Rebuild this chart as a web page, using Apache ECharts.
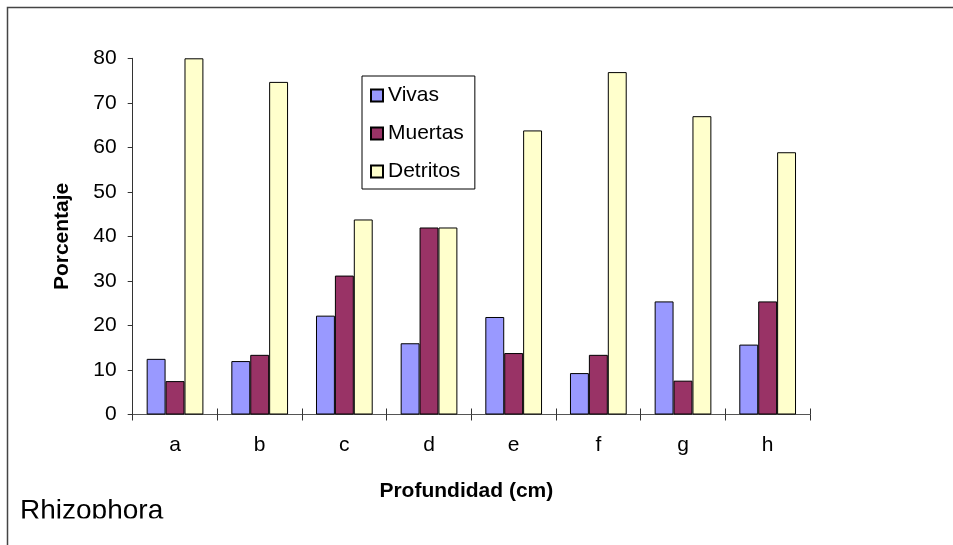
<!DOCTYPE html>
<html>
<head>
<meta charset="utf-8">
<script src="https://cdn.jsdelivr.net/npm/echarts@6/dist/echarts.min.js"></script>
<style>
html,body{margin:0;padding:0;background:#fff;}
#chart{width:953px;height:545px;}
</style>
</head>
<body>
<div id="chart"></div>
<script>
const categories = ['a','b','c','d','e','f','g','h'];
const vivas    = [12.5, 12.0, 22.2, 16.0, 21.9, 9.3, 25.4, 15.7];
const muertas  = [7.5, 13.4, 31.2, 42.0, 13.8, 13.4, 7.6, 25.4];
const detritos = [80.0, 74.7, 43.8, 42.0, 63.8, 76.9, 67.0, 58.9];
const seriesNames = ['Vivas','Muertas','Detritos'];
const yTicks = [0,10,20,30,40,50,60,70,80];

const FONT = '"Liberation Sans", Arial, sans-serif';
const chart = echarts.init(document.getElementById('chart'), null, {renderer:'canvas'});

function barSeries(name, data, color) {
  return {
    name: name, type: 'bar', data: data,
    barGap: '0%', barCategoryGap: '33%',
    itemStyle: {color: color, borderColor: '#000', borderWidth: 1},
    emphasis: {disabled: true}
  };
}

chart.setOption({
  animation: false,
  backgroundColor: '#fff',
  textStyle: {fontFamily: FONT},
  grid: {left: 132.7, right: 143, top: 58.3, bottom: 130.5, containLabel: false},
  legend: {
    orient: 'vertical', left: 362, top: 76,
    padding: [9, 11, 7, 8], itemGap: 17,
    itemWidth: 12, itemHeight: 12, icon: 'rect',
    borderColor: '#000', borderWidth: 1, backgroundColor: '#fff',
    textStyle: {fontSize: 21, color: '#000', fontFamily: FONT, lineHeight: 21},
    data: seriesNames
  },
  xAxis: [{
    type: 'category', data: categories, position: 'bottom',
    axisLine: {lineStyle: {color: '#555', width: 1}},
    axisTick: {show: true, length: 6, lineStyle: {color: '#333'}},
    axisLabel: {fontSize: 21, color: '#000', margin: 20, fontFamily: FONT},
    name: 'Profundidad (cm)', nameLocation: 'middle', nameGap: 66,
    nameTextStyle: {fontSize: 21, fontWeight: 'bold', color: '#000', fontFamily: FONT, padding: [0, 10, 0, 0]}
  }, {
    type: 'category', data: categories, position: 'bottom',
    axisLine: {show: false},
    axisTick: {show: true, inside: true, length: 6, lineStyle: {color: '#333'}},
    axisLabel: {show: false}
  }],
  yAxis: {
    type: 'value', min: yTicks[0], max: yTicks[yTicks.length-1], interval: 10,
    splitLine: {show: false},
    axisLine: {show: true, lineStyle: {color: '#333', width: 1}},
    axisTick: {show: true, length: 5, lineStyle: {color: '#333'}},
    axisLabel: {fontSize: 21, color: '#000', margin: 16, fontFamily: FONT},
    name: 'Porcentaje', nameLocation: 'middle', nameGap: 60,
    nameTextStyle: {fontSize: 21, fontWeight: 'bold', color: '#000', fontFamily: FONT}
  },
  series: [
    barSeries(seriesNames[0], vivas, '#9999FF'),
    barSeries(seriesNames[1], muertas, '#993366'),
    barSeries(seriesNames[2], detritos, '#FFFFCC')
  ],
  graphic: [
    {type: 'rect', silent: true, z: -1,
     shape: {x: 7.5, y: 7.5, width: 1000, height: 600},
     style: {fill: 'none', stroke: '#444', lineWidth: 1.5}},
    {type: 'text', left: 20, top: 497, silent: true, z: 10,
     style: {text: 'Rhizophora', fontSize: 28, fontFamily: FONT, fill: '#000'}},
    {type: 'rect', silent: true, z: 11,
     shape: {x: 10, y: 518.5, width: 200, height: 40},
     style: {fill: '#fff', stroke: 'none'}}
  ]
});
</script>
</body>
</html>
